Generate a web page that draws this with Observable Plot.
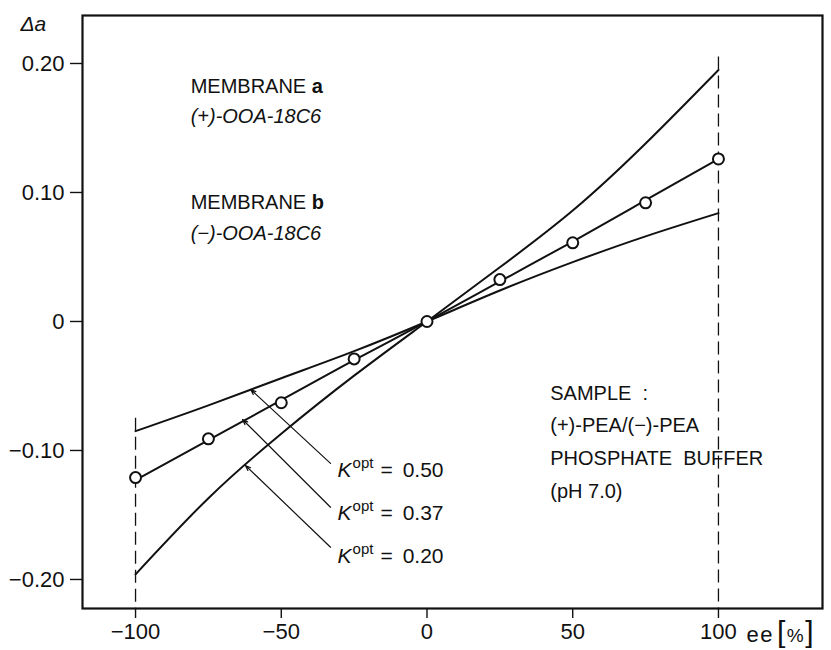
<!DOCTYPE html>
<html>
<head>
<meta charset="utf-8">
<script src="https://cdn.jsdelivr.net/npm/d3@7"></script>
<script src="https://cdn.jsdelivr.net/npm/@observablehq/plot@0.6"></script>
<style>
  html, body { margin: 0; padding: 0; background: #fff; }
  #chart svg { display: block; }
</style>
</head>
<body>
<div id="chart"></div>
<script>
// ---- data ----
const ee = [-100, -75, -50, -25, 0, 25, 50, 75, 100];
const measured = [-0.121, -0.091, -0.063, -0.029, 0, 0.0325, 0.061, 0.092, 0.126];
const fitK037 = [-0.123, -0.092, -0.061, -0.030, 0, 0.031, 0.062, 0.094, 0.126];
const fitK020 = [-0.196, -0.137, -0.087, -0.042, 0, 0.042, 0.086, 0.138, 0.195];
const fitK050 = [-0.085, -0.065, -0.044, -0.023, 0, 0.024, 0.046, 0.066, 0.084];
const xTicks = [-100, -50, 0, 50, 100];
const xTickLabels = ["−100", "−50", "0", "50", "100"];
const yTicks = [-0.2, -0.1, 0, 0.1, 0.2];
const yTickLabels = ["−0.20", "−0.10", "0", "0.10", "0.20"];
const kLabels = ["0.50", "0.37", "0.20"];
const kLeaderFrom = [[-33.1, -0.110], [-33.1, -0.144], [-33.1, -0.175]];
const kLeaderTo = [[-60.5, -0.0527], [-63.3, -0.076], [-62.3, -0.1116]];
const kLabelY = [-0.115, -0.149, -0.182];
const membraneLines = ["MEMBRANE a", "(+)-OOA-18C6", "MEMBRANE b", "(−)-OOA-18C6"];
const membraneY = [0.182, 0.159, 0.092, 0.068];
const sampleLines = ["SAMPLE  :", "(+)-PEA/(−)-PEA", "PHOSPHATE  BUFFER", "(pH 7.0)"];
const sampleY = [-0.056, -0.081, -0.106, -0.132];

const fitTable = (vals) => ee.map((x, i) => ({x, y: vals[i]}));
const pts = fitTable(measured);
const leaders = kLabels.map((k, i) => ({x1: kLeaderFrom[i][0], y1: kLeaderFrom[i][1], x2: kLeaderTo[i][0], y2: kLeaderTo[i][1]}));
const kTexts = kLabels.map((k, i) => ({x: -30.7, y: kLabelY[i], t: "Kopt = " + k}));
const memTexts = membraneLines.map((t, i) => ({x: -81.1, y: membraneY[i], t, italic: i % 2 === 1}));
const sampleTexts = sampleLines.map((t, i) => ({x: 42.3, y: sampleY[i], t}));

const FONT = "'Liberation Sans', Arial, sans-serif";
const yBottom = -0.2225;

const plot = Plot.plot({
  width: 831,
  height: 650,
  marginLeft: 82,
  marginRight: 9,
  marginTop: 15,
  marginBottom: 42,
  style: {fontFamily: FONT, fontSize: "21px", color: "#111", background: "#fff"},
  x: {domain: [-118.2, 135.7]},
  y: {domain: [yBottom, 0.2372]},
  marks: [
    Plot.frame({stroke: "#111", strokeWidth: 2.2}),
    Plot.axisX(xTicks, {tickSize: 10, tickPadding: 5, label: null, stroke: "#111", strokeWidth: 1.4,
      tickFormat: (d) => xTickLabels[xTicks.indexOf(d)], fontSize: 22}),
    Plot.axisY(yTicks, {tickSize: 12, tickPadding: 6, label: null, stroke: "#111", strokeWidth: 1.4,
      tickFormat: (d) => yTickLabels[yTicks.indexOf(d)], fontSize: 22}),
    // dashed limits at ±100
    Plot.ruleX([{x: -100, y1: -0.075, y2: yBottom}], {x: "x", y1: "y1", y2: "y2", stroke: "#111", strokeWidth: 1.3, strokeDasharray: "13,6"}),
    Plot.ruleX([{x: 100, y1: 0.205, y2: yBottom}], {x: "x", y1: "y1", y2: "y2", stroke: "#111", strokeWidth: 1.3, strokeDasharray: "13,6"}),
    // theoretical curves
    Plot.line(fitTable(fitK020), {x: "x", y: "y", curve: "natural", stroke: "#111", strokeWidth: 2}),
    Plot.line(fitTable(fitK037), {x: "x", y: "y", curve: "natural", stroke: "#111", strokeWidth: 2}),
    Plot.line(fitTable(fitK050), {x: "x", y: "y", curve: "natural", stroke: "#111", strokeWidth: 2}),
    // measured points
    Plot.dot(pts, {x: "x", y: "y", r: 5.5, stroke: "#111", strokeWidth: 2, fill: "#fff"}),
    // leader arrows
    Plot.arrow(leaders, {x1: "x1", y1: "y1", x2: "x2", y2: "y2", stroke: "#111", strokeWidth: 1.2, headLength: 7, headAngle: 40}),
    // labels
    Plot.text(kTexts, {x: "x", y: "y", text: "t", textAnchor: "start", lineAnchor: "middle", fontSize: 21, fill: "#111"}),
    Plot.text(memTexts.filter(d => !d.italic), {x: "x", y: "y", text: "t", textAnchor: "start", lineAnchor: "middle", fontSize: 20, fill: "#111"}),
    Plot.text(memTexts.filter(d => d.italic), {x: "x", y: "y", text: "t", textAnchor: "start", lineAnchor: "middle", fontSize: 20, fontStyle: "italic", fill: "#111"}),
    Plot.text(sampleTexts, {x: "x", y: "y", text: "t", textAnchor: "start", lineAnchor: "middle", fontSize: 20, fill: "#111"}),
    Plot.text(["Δa"], {frameAnchor: "top-left", dx: -62, dy: 9, textAnchor: "start", lineAnchor: "middle", fontSize: 21, fontStyle: "italic", fill: "#111"}),
    Plot.text(["ee[%]"], {frameAnchor: "bottom-right", dx: -76, dy: 26, textAnchor: "start", lineAnchor: "middle", fontSize: 22, fill: "#111"})
  ]
});

// rich text: bold membrane letter, K superscript, bracketed unit
d3.select(plot).selectAll("text").each(function() {
  const el = d3.select(this);
  const t = this.textContent;
  if (/^MEMBRANE [ab]$/.test(t)) {
    el.text(null);
    el.append("tspan").text("MEMBRANE ");
    el.append("tspan").attr("font-weight", "bold").text(t.slice(-1));
  } else if (/^Kopt = /.test(t)) {
    const v = t.split("= ")[1];
    el.text(null);
    el.append("tspan").attr("font-style", "italic").text("K");
    el.append("tspan").attr("font-size", 15).attr("dy", -9).attr("dx", 1).text("opt");
    el.append("tspan").attr("dy", 9).attr("dx", 7).text("=");
    el.append("tspan").attr("dx", 10).text(v);
  } else if (t === "ee[%]") {
    el.text(null);
    el.attr("letter-spacing", 1.5);
    el.append("tspan").text("ee");
    el.append("tspan").attr("font-size", 30).attr("dx", 3).text("[");
    el.append("tspan").attr("font-size", 19).text("%");
    el.append("tspan").attr("font-size", 30).text("]");
  }
});

document.getElementById("chart").appendChild(plot);
</script>
</body>
</html>
